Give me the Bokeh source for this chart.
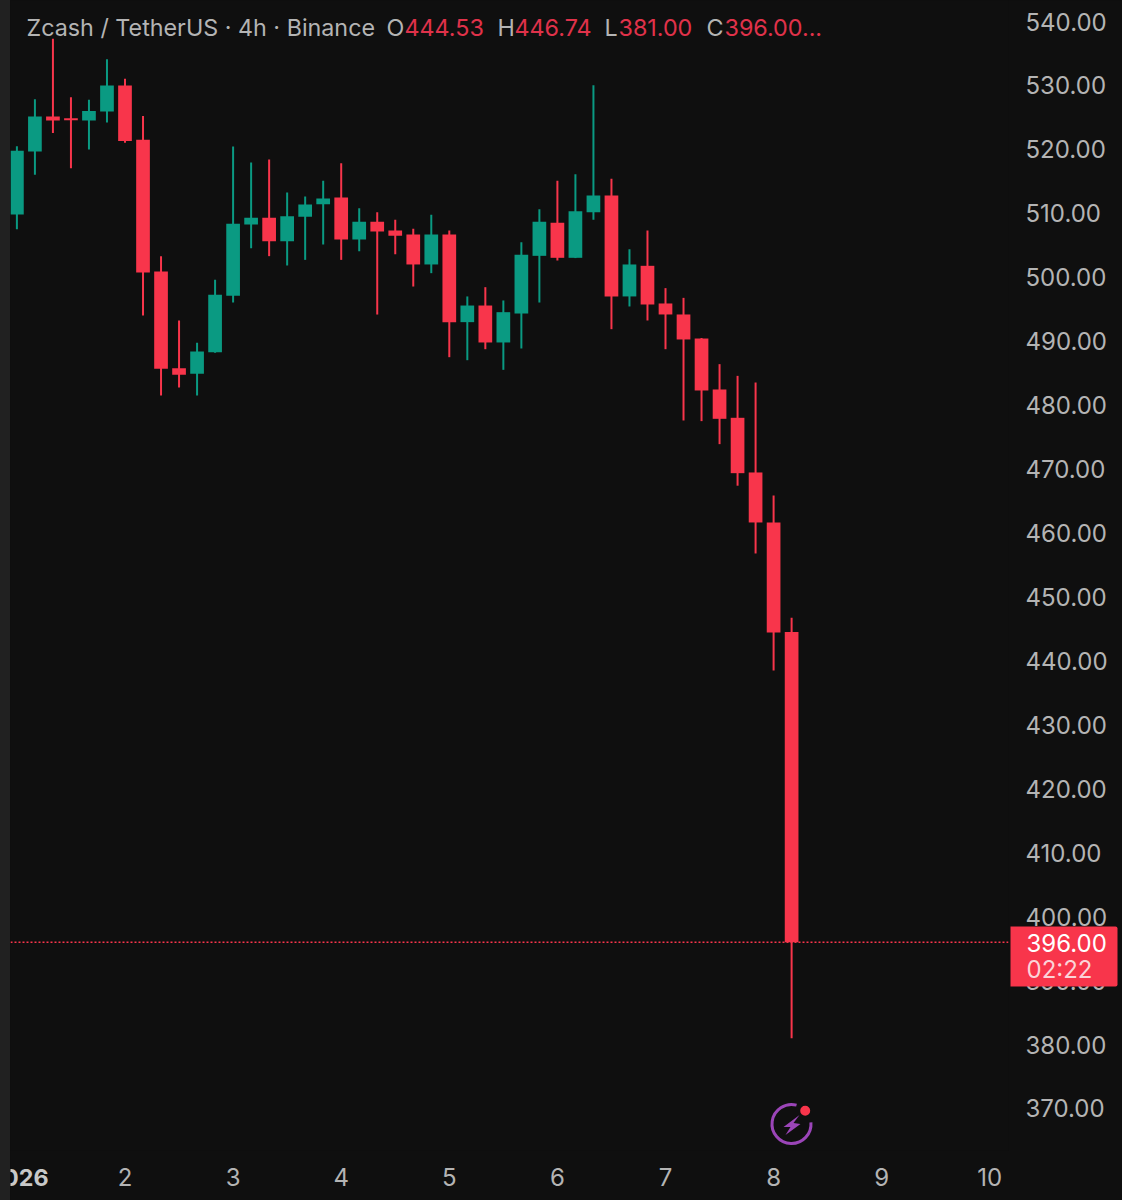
import math
from bokeh.plotting import figure
from bokeh.models import ColumnDataSource, FixedTicker, NumeralTickFormatter, Range1d, Label, BoxAnnotation, Span
from bokeh.embed import file_html
from bokeh.resources import INLINE

opens = [509.8,519.66,525.14,524.88,524.51,525.92,529.99,521.49,500.9,485.78,484.9,488.28,497.09,508.25,509.29,505.64,509.45,511.43,512.47,505.9,508.67,507.31,506.69,
         502.0,506.69,492.98,495.58,489.8,494.33,503.35,508.51,503.04,510.18,512.79,497.0,501.79,495.9,494.18,490.42,482.45,478.02,469.47,461.65,444.53]
highs = [520.5,527.85,537.29,528.16,527.75,534.11,531.03,525.24,503.3,493.24,489.74,499.6,520.45,517.94,518.41,513.25,512.63,515.08,517.84,510.8,510.18,508.98,507.57,
         509.76,507.31,497.0,498.45,496.37,505.49,510.65,515.08,516.12,530.04,515.39,504.39,507.31,498.3,496.78,490.5,486.41,484.58,483.54,465.87,446.74]
lows = [507.5,516.02,522.58,517.06,519.98,524.2,521.02,494.02,481.51,482.76,481.51,488.2,496.05,504.55,503.3,501.84,502.72,505.12,502.72,504.08,494.17,503.61,498.55,
        500.64,487.5,487.03,488.75,485.52,488.86,496.05,502.62,503.0,508.98,491.88,495.43,493.24,488.75,477.6,477.5,473.9,467.4,456.8,438.5,381.0]
closes = [519.8,525.14,524.51,524.57,526.02,529.99,521.33,500.74,485.68,484.74,488.39,497.25,508.35,509.29,505.64,509.55,511.38,512.31,505.9,508.67,507.15,506.48,502.0,
          506.69,492.98,495.58,489.8,494.54,503.51,508.67,503.04,510.34,512.79,497.0,502.0,495.74,494.18,490.27,482.29,477.86,469.36,461.65,444.44,396.0]
days = [1 + i / 6 for i in range(len(opens))]
day_ticks = [2, 3, 4, 5, 6, 7, 8, 9, 10]
price_ticks = list(range(370, 550, 10))
last_price = 396.00
header_parts = [("Zcash / TetherUS · 4h · Binance", 26, "#b4b4b4"), ("O", 386, "#b4b4b4"), ("444.53", 404, "#e0324a"),
                ("H", 497, "#b4b4b4"), ("446.74", 514, "#e0324a"), ("L", 604, "#b4b4b4"), ("381.00", 618, "#e0324a"),
                ("C", 706, "#b4b4b4"), ("396.00...", 724, "#e0324a")]

RED, GREEN, BG, TXT = "#f8354b", "#0a9a82", "#0f0f0f", "#b4b4b4"
FONT = "Inter"
W, H, LEFT, FRAME_BOTTOM = 1112, 1200, 10, 1150

px_per_day, px_per_unit = 108.1, 6.394
def dx(sx): return 2 + (sx - 124.5) / px_per_day
def dy(sy): return 540 - (sy - 21) / px_per_unit

p = figure(width=W, height=H, output_backend="svg", toolbar_location=None,
           x_range=Range1d(dx(LEFT), dx(1008)), y_range=Range1d(dy(FRAME_BOTTOM), dy(0)),
           background_fill_color=BG, border_fill_color=BG, outline_line_color=None,
           y_axis_location="right", min_border_left=0, min_border_top=0, min_border_right=W - 998, min_border_bottom=H - FRAME_BOTTOM)
p.styles = {"margin-left": "10px"}
p.grid.visible = False

for ax in (p.xaxis[0], p.yaxis[0]):
    ax.axis_line_color = None
    ax.major_tick_line_color = None
    ax.minor_tick_line_color = None
    ax.major_label_text_color = TXT
    ax.major_label_text_font = FONT
    ax.major_label_text_font_size = "24px"
p.xaxis[0].ticker = FixedTicker(ticks=day_ticks)
p.xaxis[0].major_label_standoff = 11
p.yaxis[0].ticker = FixedTicker(ticks=price_ticks)
p.yaxis[0].formatter = NumeralTickFormatter(format="0.00")
p.yaxis[0].major_label_standoff = 11

colors = [GREEN if c >= o else RED for o, c in zip(opens, closes)]
src = ColumnDataSource(dict(x=days, o=opens, h=highs, l=lows, c=closes, color=colors))
p.segment("x", "h", "x", "l", source=src, color="color", line_width=2)
p.vbar("x", top="o", bottom="c", width=13.7 / px_per_day, source=src, fill_color="color", line_color=None)

p.add_layout(Span(location=last_price, dimension="width", line_color=RED, line_width=1.5, line_dash="2 2"))

cx, cy = 791, 1123.5
p.arc([dx(cx)], [dy(cy)], radius=19.5, radius_units="screen", start_angle=math.radians(75), end_angle=math.radians(5),
      direction="anticlock", line_color="#9b45b8", line_width=3)
bolt_x = [8, -8, -1, -6, 9, 2]
bolt_y = [-9, 3, 3, 11, 0, -1]
p.patch([dx(cx + a) for a in bolt_x], [dy(cy + b) for b in bolt_y], fill_color="#9b45b8", line_color=None)
p.scatter([dx(804.7)], [dy(1110.3)], size=10, color=RED, line_color=None)

# Transparent layer above the chart: annotations outside a frame would be clipped
q = figure(width=W, height=H, output_backend="svg", toolbar_location=None,
           x_range=Range1d(0, W), y_range=Range1d(H, 0), x_axis_location=None, y_axis_location=None,
           background_fill_color=None, border_fill_color=None, outline_line_color=None,
           min_border_left=0, min_border_top=0, min_border_right=0, min_border_bottom=0)
q.styles = {"position": "absolute", "left": "10px", "top": "0px"}
q.grid.visible = False

def txt(fig, s, x, y, color, size="23.3px", style="normal", align="left"):
    fig.add_layout(Label(x=x - LEFT, y=y, x_units="canvas", y_units="canvas", text=s, text_color=color, text_font=FONT,
                         text_font_size=size, text_font_style=style, text_align=align, text_baseline="middle"))

for s, x, c in header_parts:
    txt(p, s, x, 27, c)
txt(q, "2026", 18, 1177, "#c8c8c8", style="bold", align="center")

q.add_layout(BoxAnnotation(left=1010 - LEFT, right=1117 - LEFT, top=926, bottom=986,
                           left_units="canvas", right_units="canvas", top_units="canvas", bottom_units="canvas",
                           fill_color=RED, fill_alpha=1, line_color=None, border_radius=(0, 2, 2, 0)))
txt(q, "396.00", 1026, 942, "#ffffff", size="24px")
txt(q, "02:22", 1026, 969, "#fbd3d8", size="24px")

html = file_html([p, q], INLINE).replace("<body>", '<body style="overflow:hidden;background:linear-gradient(90deg,#212121 10px,#0f0f0f 10px)">')
open("out.html", "w").write(html)
